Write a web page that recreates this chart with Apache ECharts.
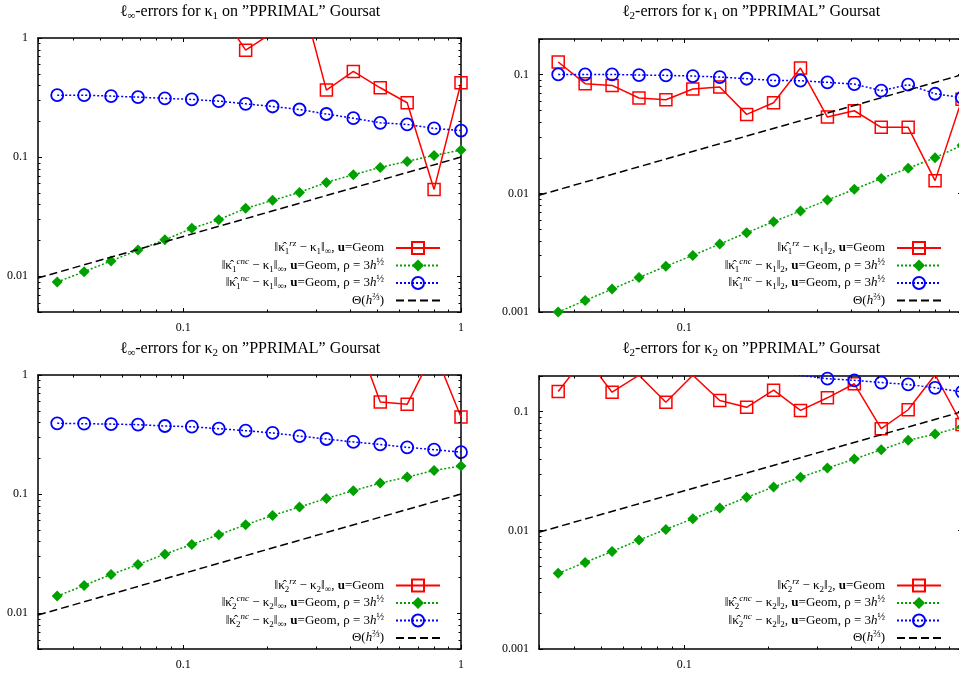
<!DOCTYPE html>
<html><head><meta charset="utf-8">
<script src="https://cdn.jsdelivr.net/npm/echarts@6/dist/echarts.min.js"></script>
<style>html,body{margin:0;padding:0;background:#fff}#c{width:959px;height:673px}</style>
</head><body><div id="c"></div>
<script>
// ---------- data ----------
const hValues = [0.03518, 0.04398, 0.05498, 0.06872, 0.08590, 0.10737, 0.13422, 0.16777, 0.20972, 0.26214, 0.32768, 0.4096, 0.512, 0.64, 0.8, 1];
// panel 1: l_inf errors for kappa1
const k1InfRz  = [2.0, 1.8, 2.2, 1.6, 1.9, 2.1, 1.73, 0.79, 1.11, 2.6, 0.365, 0.524, 0.382, 0.286, 0.0535, 0.421];
const k1InfCnc = [0.00893, 0.01091, 0.0134, 0.0166, 0.0202, 0.0252, 0.0298, 0.0371, 0.0433, 0.0505, 0.0613, 0.0711, 0.0819, 0.0920, 0.1032, 0.1145];
const k1InfNc  = [0.331, 0.331, 0.325, 0.319, 0.311, 0.305, 0.295, 0.280, 0.266, 0.251, 0.230, 0.212, 0.194, 0.188, 0.174, 0.167];
// panel 2: l_2 errors for kappa1
const k1L2Rz  = [0.1279, 0.0840, 0.0813, 0.0636, 0.0616, 0.0757, 0.0787, 0.0463, 0.0581, 0.1138, 0.0440, 0.0497, 0.0360, 0.0360, 0.0128, 0.062];
const k1L2Cnc = [0.00100, 0.00125, 0.00156, 0.00195, 0.00243, 0.00300, 0.00374, 0.00466, 0.00577, 0.00710, 0.00879, 0.01081, 0.01337, 0.01625, 0.0200, 0.0254];
const k1L2Nc  = [0.1006, 0.1006, 0.1006, 0.0994, 0.0987, 0.0974, 0.0956, 0.0925, 0.0896, 0.0890, 0.0862, 0.0834, 0.0733, 0.0824, 0.0691, 0.0640];
// panel 3: l_inf errors for kappa2
const k2InfRz  = [3.2, 2.9, 3.5, 2.7, 3.1, 2.6, 2.9, 2.4, 2.7, 2.2, 2.5, 2.44, 0.593, 0.567, 1.6, 0.444];
const k2InfCnc = [0.0139, 0.0171, 0.0211, 0.0256, 0.0313, 0.0378, 0.0455, 0.0552, 0.0662, 0.0778, 0.0920, 0.1067, 0.1237, 0.1389, 0.1581, 0.1719];
const k2InfNc  = [0.393, 0.390, 0.387, 0.383, 0.373, 0.368, 0.354, 0.341, 0.326, 0.307, 0.290, 0.274, 0.261, 0.247, 0.236, 0.225];
// panel 4: l_2 errors for kappa2
const k2L2Rz  = [0.148, 0.29, 0.146, 0.203, 0.120, 0.203, 0.1245, 0.109, 0.152, 0.1025, 0.131, 0.172, 0.0719, 0.1039, 0.205, 0.078];
const k2L2Cnc = [0.00434, 0.00537, 0.00665, 0.00829, 0.01019, 0.01254, 0.01542, 0.01897, 0.0232, 0.0280, 0.0335, 0.0399, 0.0478, 0.0574, 0.0648, 0.0748];
const k2L2Nc  = [0.240, 0.238, 0.236, 0.234, 0.232, 0.229, 0.225, 0.220, 0.213, 0.203, 0.190, 0.184, 0.176, 0.1697, 0.159, 0.147];
// reference slope Theta(h^(2/3))
const thetaX = [0.03, 1];
const thetaY = [0.00965, 0.1];
// axis ranges
const xRange = [0.03, 1];
const yRangeInf = [0.005, 1];
const yRangeL2 = [0.001, 0.2];

// ---------- styles ----------
const SERIF = '"Liberation Serif","DejaVu Serif","Times New Roman",serif';
const RED = '#ff0000', GREEN = '#00a000', BLUE = '#0000ff';
const RICH = {
  t:   {fontFamily: SERIF, fontSize: 13, lineHeight: 17, color: '#000'},
  i:   {fontFamily: SERIF, fontSize: 13, lineHeight: 17, color: '#000', fontStyle: 'italic'},
  b:   {fontFamily: SERIF, fontSize: 13, lineHeight: 17, color: '#000', fontWeight: 'bold'},
  sup: {fontFamily: SERIF, fontSize: 9, lineHeight: 10, color: '#000', fontStyle: 'italic', verticalAlign: 'top'},
  supn:{fontFamily: SERIF, fontSize: 10, lineHeight: 10, color: '#000', verticalAlign: 'top'},
  sub: {fontFamily: SERIF, fontSize: 9, lineHeight: 10, color: '#000', verticalAlign: 'bottom'}
};
const TRICH = {
  t:   {fontFamily: SERIF, fontSize: 16, lineHeight: 20, color: '#000'},
  sub: {fontFamily: SERIF, fontSize: 11, lineHeight: 12, color: '#000', verticalAlign: 'bottom'}
};

const panels = [
  {rz: k1InfRz, cnc: k1InfCnc, nc: k1InfNc, yr: yRangeInf, k: '1', norm: '∞',
   grid: {left: 38, top: 38, width: 423, height: 274}, titleX: 250, titleY: 12, legRight: 518, legTop: 239.5},
  {rz: k1L2Rz, cnc: k1L2Cnc, nc: k1L2Nc, yr: yRangeL2, k: '1', norm: '2',
   grid: {left: 539, top: 39, width: 423, height: 273}, titleX: 751, titleY: 12, legRight: 17, legTop: 239.5},
  {rz: k2InfRz, cnc: k2InfCnc, nc: k2InfNc, yr: yRangeInf, k: '2', norm: '∞',
   grid: {left: 38, top: 375, width: 423, height: 274}, titleX: 250, titleY: 349, legRight: 518, legTop: 577},
  {rz: k2L2Rz, cnc: k2L2Cnc, nc: k2L2Nc, yr: yRangeL2, k: '2', norm: '2',
   grid: {left: 539, top: 376, width: 423, height: 273}, titleX: 751, titleY: 349, legRight: 17, legTop: 577}
];

function decadeLabel(v) {
  const e = Math.log10(v), r = Math.round(e);
  if (Math.abs(e - r) > 1e-6) return '';
  return Math.pow(10, r).toFixed(Math.max(0, -r));
}
function pairs(xs, ys) { return xs.map((x, i) => [x, ys[i]]); }

const grids = [], xAxes = [], yAxes = [], series = [], legends = [], graphics = [];
const labelMap = {};
panels.forEach((p, g) => {
  grids.push(Object.assign({containLabel: false, outerBoundsMode: 'none'}, p.grid));
  const lineAx = {show: true, onZero: false, lineStyle: {color: '#000', width: 1.5}};
  const tickAx = {show: true, inside: true, length: 4, lineStyle: {color: '#000', width: 1}};
  const lab = {formatter: decadeLabel, fontFamily: SERIF, fontSize: 12, color: '#000'};
  xAxes.push({type: 'log', logBase: 10, gridIndex: g, min: xRange[0], max: xRange[1], position: 'bottom',
    axisLine: lineAx, axisTick: tickAx, axisLabel: Object.assign({margin: 10}, lab), splitLine: {show: false}});
  xAxes.push({type: 'log', logBase: 10, gridIndex: g, min: xRange[0], max: xRange[1], position: 'top',
    axisLine: lineAx, axisTick: tickAx, axisLabel: {show: false}, splitLine: {show: false}});
  yAxes.push({type: 'log', logBase: 10, gridIndex: g, min: p.yr[0], max: p.yr[1], position: 'left',
    axisLine: lineAx, axisTick: tickAx, axisLabel: Object.assign({margin: 10}, lab), splitLine: {show: false}});
  yAxes.push({type: 'log', logBase: 10, gridIndex: g, min: p.yr[0], max: p.yr[1], position: 'right',
    axisLine: lineAx, axisTick: tickAx, axisLabel: {show: false}, splitLine: {show: false}});
  const xi = 2 * g, yi = 2 * g;
  const names = ['p' + g + '_rz', 'p' + g + '_cnc', 'p' + g + '_nc', 'p' + g + '_theta'];
  const nrm = '{t|‖}{sub|' + p.norm + '}';
  labelMap[names[0]] = '{t|‖κ̂}{sub|' + p.k + '}{sup|rz}{t| − κ}{sub|' + p.k + '}' + nrm + '{t|, }{b|u}{t|=Geom}';
  labelMap[names[1]] = '{t|‖κ̂}{sub|' + p.k + '}{sup|cnc}{t| − κ}{sub|' + p.k + '}' + nrm + '{t|, }{b|u}{t|=Geom, ρ = 3}{i|h}{supn|½}';
  labelMap[names[2]] = '{t|‖κ̂}{sub|' + p.k + '}{sup|nc}{t| − κ}{sub|' + p.k + '}' + nrm + '{t|, }{b|u}{t|=Geom, ρ = 3}{i|h}{supn|½}';
  labelMap[names[3]] = '{t|Θ(}{i|h}{supn|⅔}{t|)}';

  series.push({name: names[0], type: 'line', xAxisIndex: xi, yAxisIndex: yi, data: pairs(hValues, p.rz),
    symbol: 'rect', symbolSize: 12, showAllSymbol: true, clip: true,
    lineStyle: {color: RED, width: 1.5, type: 'solid'},
    itemStyle: {color: 'rgba(0,0,0,0)', borderColor: RED, borderWidth: 1.5}, z: 2});
  series.push({name: names[1], type: 'line', xAxisIndex: xi, yAxisIndex: yi, data: pairs(hValues, p.cnc),
    symbol: 'diamond', symbolSize: 11, showAllSymbol: true, clip: true,
    lineStyle: {color: GREEN, width: 1.5, type: [2, 2]},
    itemStyle: {color: GREEN, borderWidth: 0}, z: 3});
  series.push({name: names[2], type: 'line', xAxisIndex: xi, yAxisIndex: yi, data: pairs(hValues, p.nc),
    symbol: 'circle', symbolSize: 12, showAllSymbol: true, clip: true,
    lineStyle: {color: BLUE, width: 1.5, type: [2, 2]},
    itemStyle: {color: 'rgba(0,0,0,0)', borderColor: BLUE, borderWidth: 1.8}, z: 4});
  series.push({name: names[3], type: 'line', xAxisIndex: xi, yAxisIndex: yi, data: pairs(thetaX, thetaY),
    symbol: 'none', clip: true,
    lineStyle: {color: '#000', width: 1.5, type: [8, 4]}, itemStyle: {color: '#000'}, z: 5});

  legends.push({
    orient: 'vertical', align: 'right', right: p.legRight, top: p.legTop,
    itemWidth: 44, itemHeight: 15, itemGap: 0.5, selectedMode: false, padding: 0,
    data: [names[0], names[1], names[2], {name: names[3], itemStyle: {opacity: 0}}],
    formatter: n => labelMap[n],
    textStyle: {fontFamily: SERIF, fontSize: 13, color: '#000', rich: RICH, padding: [0, 7, 0, 0]}
  });

  graphics.push({type: 'text', x: p.titleX, y: p.titleY, z: 10,
    style: {text: '{t|ℓ}{sub|' + p.norm + '}{t|-errors for κ}{sub|' + p.k + '}{t| on ”PPRIMAL” Goursat}',
      rich: TRICH, align: 'center', verticalAlign: 'middle'}});
});

const chart = echarts.init(document.getElementById('c'), null, {renderer: 'canvas'});
chart.setOption({
  animation: false, backgroundColor: '#fff',
  grid: grids, xAxis: xAxes, yAxis: yAxes, series: series, legend: legends, graphic: graphics
});

// minor ticks (2..9 per decade) on all four sides, placed through the axes' own scales
const minor = [];
function minorValues(lo, hi) {
  const out = [];
  for (let d = Math.floor(Math.log10(lo)) - 1; d <= Math.ceil(Math.log10(hi)); d++) {
    for (let m = 2; m <= 9; m++) {
      const v = m * Math.pow(10, d);
      if (v > lo * 1.0001 && v < hi * 0.9999) out.push(v);
    }
  }
  return out;
}
panels.forEach((p, g) => {
  const xi = 2 * g, yi = 2 * g;
  const x0 = chart.convertToPixel({xAxisIndex: xi}, xRange[0]);
  const x1 = chart.convertToPixel({xAxisIndex: xi}, xRange[1]);
  const yb = chart.convertToPixel({yAxisIndex: yi}, p.yr[0]);
  const yt = chart.convertToPixel({yAxisIndex: yi}, p.yr[1]);
  const L = 2.5;
  minorValues(xRange[0], xRange[1]).forEach(v => {
    const x = Math.round(chart.convertToPixel({xAxisIndex: xi}, v)) + 0.5;
    minor.push({type: 'line', shape: {x1: x, y1: yb, x2: x, y2: yb - L}, style: {stroke: '#000', lineWidth: 1}, z: 6, silent: true});
    minor.push({type: 'line', shape: {x1: x, y1: yt, x2: x, y2: yt + L}, style: {stroke: '#000', lineWidth: 1}, z: 6, silent: true});
  });
  minorValues(p.yr[0], p.yr[1]).forEach(v => {
    const y = Math.round(chart.convertToPixel({yAxisIndex: yi}, v)) + 0.5;
    minor.push({type: 'line', shape: {x1: x0, y1: y, x2: x0 + L, y2: y}, style: {stroke: '#000', lineWidth: 1}, z: 6, silent: true});
    minor.push({type: 'line', shape: {x1: x1, y1: y, x2: x1 - L, y2: y}, style: {stroke: '#000', lineWidth: 1}, z: 6, silent: true});
  });
});
chart.setOption({graphic: graphics.concat(minor)});
</script>
</body></html>
